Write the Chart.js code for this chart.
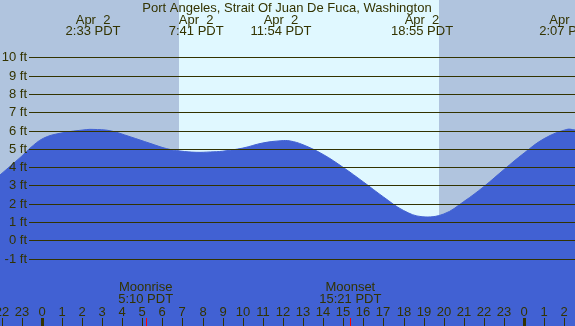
<!DOCTYPE html>
<html>
<head>
<meta charset="utf-8">
<script src="https://cdn.jsdelivr.net/npm/chart.js@4/dist/chart.umd.min.js"></script>
<style>
html,body{margin:0;padding:0;background:#b0c4de;}
#wrap{width:575px;height:326px;position:relative;}
canvas{display:block;}
</style>
</head>
<body>
<div id="wrap"><canvas id="c" width="575" height="326"></canvas></div>
<script>
// Tide heights (ft), by hour (Apr 2, PDT; 24+ = Apr 3)
const hours   = [-2.08, -1, -0.59, 0.07, 0.91, 2.23, 2.55, 3.39, 4.39, 5.38, 6.21, 6.88, 7.68, 8.4, 9, 10, 11, 11.9, 12.35, 13, 14, 15, 16, 17, 18, 18.92, 20, 21, 22, 23, 24, 25, 26.12, 26.53];
const heights = [3.57, 4.60, 5.03, 5.57, 5.85, 6.05, 6.06, 5.99, 5.66, 5.30, 5.01, 4.88, 4.81, 4.83, 4.87, 5.04, 5.32, 5.44, 5.43, 5.22, 4.69, 3.98, 3.19, 2.37, 1.63, 1.29, 1.44, 2.12, 2.94, 3.87, 4.77, 5.56, 6.06, 6.03];

// Tide extremes (top labels)
const extremeHours = [2.55, 7.683, 11.9, 18.917, 26.117];
const extremeDates = ["Apr  2", "Apr  2", "Apr  2", "Apr  2", "Apr  3"];
const extremeTimes = ["2:33 PDT", "7:41 PDT", "11:54 PDT", "18:55 PDT", "2:07 PDT"];

// Sun (day shading)
const sunrise = 6.83;
const sunset  = 19.76;

// Moon events
const moonHours  = [5.167, 15.35];
const moonNames  = ["Moonrise", "Moonset"];
const moonTimes  = ["5:10 PDT", "15:21 PDT"];

// Y grid labels (ft)
const yTicks = [-1, 0, 1, 2, 3, 4, 5, 6, 7, 8, 9, 10];
// Hour tick labels along the bottom
const hourTicks = [-2, -1, 0, 1, 2, 3, 4, 5, 6, 7, 8, 9, 10, 11, 12, 13, 14, 15, 16, 17, 18, 19, 20, 21, 22, 23, 24, 25, 26];
const hourLabels = ["22", "23", "0", "1", "2", "3", "4", "5", "6", "7", "8", "9", "10", "11", "12", "13", "14", "15", "16", "17", "18", "19", "20", "21", "22", "23", "0", "1", "2"];

const title = "Port Angeles, Strait Of Juan De Fuca, Washington";

const TXT = '#333300';
const FONT = '13px "Liberation Sans", Arial, sans-serif';

const bgPlugin = {
  id: 'bg',
  beforeDraw(chart) {
    const {ctx, scales: {x}} = chart;
    ctx.save();
    ctx.fillStyle = '#b0c4de';
    ctx.fillRect(0, 0, chart.width, chart.height);
    const x1 = Math.round(x.getPixelForValue(sunrise));
    const x2 = Math.round(x.getPixelForValue(sunset));
    ctx.fillStyle = '#e0f8ff';
    ctx.fillRect(x1, 0, x2 - x1, chart.height);
    ctx.restore();
  },
  afterDatasetsDraw(chart) {
    const {ctx, scales: {x, y}} = chart;
    const W = chart.width, H = chart.height;
    ctx.save();
    ctx.strokeStyle = TXT;
    ctx.lineWidth = 1;
    ctx.font = FONT;
    ctx.fillStyle = TXT;
    ctx.textAlign = 'right';
    ctx.textBaseline = 'middle';
    yTicks.forEach(v => {
      const py = Math.round(y.getPixelForValue(v)) + 0.5;
      ctx.beginPath();
      ctx.moveTo(29, py);
      ctx.lineTo(W, py);
      ctx.stroke();
      ctx.fillText(v + ' ft', 27, py);
    });
    ctx.textAlign = 'center';
    ctx.fillText(title, 287, 8);
    extremeHours.forEach((h, i) => {
      const px = x.getPixelForValue(h);
      ctx.fillText(extremeDates[i], px, 20);
      ctx.fillText(extremeTimes[i], px, 31);
    });
    moonHours.forEach((h, i) => {
      const px = x.getPixelForValue(h);
      ctx.fillText(moonNames[i], px, 287);
      ctx.fillText(moonTimes[i], px, 299);
    });
    hourTicks.forEach((h, i) => {
      const px = Math.round(x.getPixelForValue(h));
      ctx.fillStyle = TXT;
      ctx.fillText(hourLabels[i], px, 312);
      if (hourLabels[i] === '0') {
        ctx.fillRect(px - 1, 318, 3, H - 318);
      } else {
        ctx.fillRect(px, 318, 1, H - 318);
      }
    });
    ctx.fillStyle = '#ff0000';
    moonHours.forEach(h => {
      const px = Math.round(x.getPixelForValue(h));
      ctx.fillRect(px, 318, 1, H - 318);
    });
    ctx.restore();
  }
};

new Chart(document.getElementById('c'), {
  type: 'line',
  data: {
    datasets: [{
      data: hours.map((h, i) => ({x: h, y: heights[i]})),
      borderColor: '#4161d3',
      backgroundColor: '#4161d3',
      borderWidth: 1,
      pointRadius: 0,
      fill: 'start',
      tension: 0.4
    }]
  },
  options: {
    responsive: false,
    devicePixelRatio: 1,
    animation: false,
    layout: {padding: 0},
    plugins: {legend: {display: false}, tooltip: {enabled: false}, title: {display: false}},
    scales: {
      x: {type: 'linear', display: false, min: -2.08, max: 26.53},
      y: {type: 'linear', display: false, min: -4.68, max: 13.13}
    }
  },
  plugins: [bgPlugin]
});
</script>
</body>
</html>
